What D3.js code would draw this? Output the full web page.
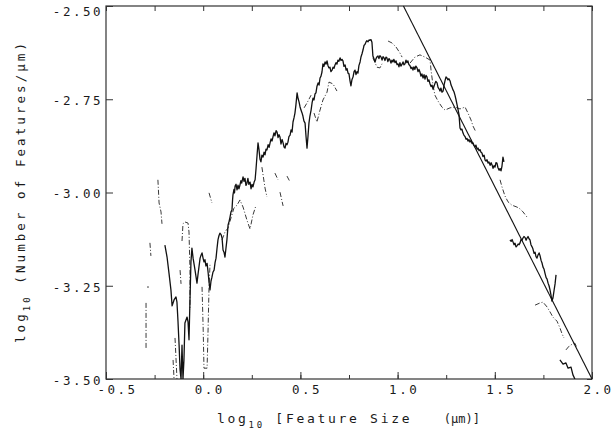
<!DOCTYPE html>
<html>
<head>
<meta charset="utf-8">
<script src="https://cdn.jsdelivr.net/npm/d3@7"></script>
<style>
  body { margin: 0; background: #fff; }
  text { font-family: "DejaVu Sans Mono", "Liberation Mono", monospace; fill: #1a1a1a; }
</style>
</head>
<body>
<svg id="chart" width="614" height="435"></svg>
<script>
// Axis ticks and labels
const xTicks = [-0.5, 0, 0.5, 1, 1.5, 2];
const xTickLabels = ["-0.5", "0.0", "0.5", "1.0", "1.5", "2.0"];
const xMinorTicks = [-0.5, -0.25, 0, 0.25, 0.5, 0.75, 1, 1.25, 1.5, 1.75, 2];
const yTicks = [-2.5, -2.75, -3, -3.25, -3.5];
const yTickLabels = ["-2.50", "-2.75", "-3.00", "-3.25", "-3.50"];

// Measured distribution, solid trace: [log10 size, log10 number]
const solidA = [
  [-0.197,-3.141],[-0.186,-3.173],[-0.176,-3.216],[-0.166,-3.261],[-0.160,-3.304],[-0.150,-3.288],
  [-0.140,-3.280],[-0.135,-3.294],[-0.130,-3.342],[-0.124,-3.409],[-0.119,-3.476],[-0.114,-3.500],
  [-0.109,-3.409],[-0.104,-3.500],[-0.099,-3.449],[-0.094,-3.350],[-0.083,-3.334],[-0.078,-3.347],
  [-0.073,-3.395],[-0.068,-3.288],[-0.063,-3.186],[-0.058,-3.149],[-0.052,-3.176],[-0.042,-3.208],
  [-0.032,-3.243],[-0.027,-3.221],[-0.016,-3.176],[-0.011,-3.168],[-0.006,-3.162],[-0.001,-3.175],
  [0.004,-3.186],[0.009,-3.180],[0.014,-3.197],[0.020,-3.190],[0.025,-3.213],[0.030,-3.240],
  [0.035,-3.261],[0.040,-3.238],[0.045,-3.227],[0.050,-3.214],[0.056,-3.208],[0.061,-3.188],
  [0.066,-3.176],[0.071,-3.150],[0.076,-3.127],[0.081,-3.116],[0.086,-3.109],[0.092,-3.113],
  [0.097,-3.122],[0.102,-3.154],[0.107,-3.160],[0.112,-3.173],[0.117,-3.150],[0.122,-3.127],
  [0.128,-3.087],[0.133,-3.078],[0.138,-3.066],[0.143,-3.052],[0.148,-3.047],[0.151,-3.020],
  [0.153,-3.007],[0.158,-2.992],[0.161,-3.001],[0.164,-2.983],[0.169,-2.978],[0.174,-2.993],
  [0.177,-2.986],[0.179,-2.980],[0.184,-2.990],[0.189,-2.980],[0.194,-2.968],[0.198,-2.975],
  [0.205,-2.958],[0.210,-2.970],[0.215,-2.962],[0.220,-2.981],[0.225,-2.975],[0.230,-2.962],
  [0.235,-2.978],[0.241,-2.972],[0.246,-2.990],[0.251,-2.978],[0.256,-2.985],[0.262,-2.972],
  [0.267,-2.966],[0.272,-2.935],[0.277,-2.900],[0.282,-2.867],[0.287,-2.885],[0.292,-2.910],
  [0.297,-2.918],[0.302,-2.900],[0.308,-2.905],[0.313,-2.892],[0.318,-2.899],[0.323,-2.884],
  [0.328,-2.886],[0.334,-2.872],[0.339,-2.879],[0.344,-2.867],[0.349,-2.856],[0.354,-2.862],
  [0.359,-2.851],[0.364,-2.840],[0.369,-2.848],[0.375,-2.834],[0.380,-2.838],[0.385,-2.853],
  [0.390,-2.845],[0.395,-2.851],[0.400,-2.870],[0.406,-2.858],[0.411,-2.867],[0.416,-2.878],
  [0.421,-2.881],[0.426,-2.868],[0.431,-2.872],[0.436,-2.865],[0.441,-2.850],[0.447,-2.846],
  [0.452,-2.832],[0.457,-2.838],[0.462,-2.811],[0.467,-2.800],[0.472,-2.787],[0.477,-2.765],
  [0.483,-2.733],[0.488,-2.748],[0.493,-2.757],[0.498,-2.770],[0.503,-2.779],[0.508,-2.786],
  [0.513,-2.795],[0.518,-2.808],[0.524,-2.814],[0.529,-2.850],[0.534,-2.881],[0.539,-2.850],
  [0.544,-2.814],[0.549,-2.795],[0.555,-2.779],[0.560,-2.760],[0.565,-2.747],[0.570,-2.752],
  [0.575,-2.736],[0.580,-2.733],[0.585,-2.716],[0.591,-2.706],[0.596,-2.712],[0.601,-2.693],
  [0.606,-2.688],[0.611,-2.677],[0.616,-2.655],[0.621,-2.662],[0.627,-2.650],[0.632,-2.656],
  [0.637,-2.647],[0.642,-2.660],[0.647,-2.666],[0.652,-2.664],[0.657,-2.676],[0.663,-2.672],
  [0.668,-2.664],[0.673,-2.667],[0.678,-2.658],[0.683,-2.652],[0.688,-2.656],[0.693,-2.645],
  [0.698,-2.648],[0.704,-2.639],[0.709,-2.646],[0.714,-2.643],[0.719,-2.647],[0.724,-2.662],
  [0.730,-2.658],[0.735,-2.672],[0.740,-2.668],[0.745,-2.680],[0.750,-2.682],[0.755,-2.700],
  [0.760,-2.714],[0.765,-2.698],[0.771,-2.690],[0.776,-2.676],[0.781,-2.672],[0.786,-2.684],
  [0.791,-2.676],[0.796,-2.680],[0.801,-2.660],[0.807,-2.650],[0.812,-2.636],[0.817,-2.628],
  [0.822,-2.618],[0.827,-2.606],[0.832,-2.603],[0.837,-2.597],[0.842,-2.593],[0.848,-2.596],
  [0.853,-2.591],[0.858,-2.592],[0.863,-2.590],[0.868,-2.597],[0.873,-2.634],[0.878,-2.641],
  [0.884,-2.650],[0.889,-2.641],[0.894,-2.636],[0.899,-2.634],[0.904,-2.641],[0.909,-2.633],
  [0.915,-2.637],[0.920,-2.645],[0.925,-2.636],[0.930,-2.639],[0.935,-2.646],[0.940,-2.637],
  [0.945,-2.639],[0.950,-2.649],[0.956,-2.641],[0.961,-2.645],[0.966,-2.653],[0.971,-2.645],
  [0.976,-2.650],[0.981,-2.643],[0.987,-2.652],[0.992,-2.647],[0.997,-2.657],[1.002,-2.655],
  [1.007,-2.663],[1.012,-2.652],[1.017,-2.661],[1.023,-2.656],[1.028,-2.650],[1.033,-2.658],
  [1.038,-2.655],[1.043,-2.645],[1.048,-2.652],[1.053,-2.647],[1.058,-2.657],[1.064,-2.660],
  [1.069,-2.668],[1.074,-2.664],[1.079,-2.672],[1.084,-2.663],[1.089,-2.670],[1.094,-2.661],
  [1.100,-2.666],[1.105,-2.676],[1.110,-2.670],[1.115,-2.677],[1.120,-2.688],[1.125,-2.682],
  [1.131,-2.693],[1.136,-2.684],[1.141,-2.696],[1.146,-2.686],[1.151,-2.690],[1.156,-2.702],
  [1.161,-2.698],[1.167,-2.709],[1.172,-2.716],[1.177,-2.712],[1.182,-2.723],[1.187,-2.716],
  [1.192,-2.708],[1.197,-2.702],[1.203,-2.706],[1.208,-2.718],[1.213,-2.722],[1.218,-2.728],
  [1.223,-2.720],[1.228,-2.731],[1.234,-2.728],[1.239,-2.712],[1.244,-2.700],[1.249,-2.690],
  [1.254,-2.693],[1.259,-2.698],[1.264,-2.695],[1.270,-2.701],[1.275,-2.712],[1.280,-2.718],
  [1.285,-2.725],[1.290,-2.730],[1.295,-2.739],[1.300,-2.750],[1.306,-2.765],[1.311,-2.778],
  [1.316,-2.792],[1.321,-2.827],[1.326,-2.832],[1.331,-2.830],[1.336,-2.840],[1.341,-2.846],
  [1.347,-2.850],[1.352,-2.857],[1.357,-2.855],[1.362,-2.862],[1.367,-2.858],[1.372,-2.865],
  [1.378,-2.860],[1.383,-2.869],[1.388,-2.867],[1.393,-2.874],[1.398,-2.878],[1.403,-2.873],
  [1.409,-2.884],[1.414,-2.881],[1.419,-2.888],[1.424,-2.885],[1.429,-2.892],[1.434,-2.894],
  [1.439,-2.904],[1.445,-2.900],[1.450,-2.913],[1.455,-2.916],[1.460,-2.912],[1.465,-2.921],
  [1.470,-2.918],[1.476,-2.927],[1.481,-2.920],[1.486,-2.926],[1.491,-2.935],[1.496,-2.928],
  [1.501,-2.932],[1.506,-2.920],[1.511,-2.921],[1.516,-2.933],[1.522,-2.940],[1.527,-2.936],
  [1.532,-2.942],[1.537,-2.929],[1.542,-2.905],[1.547,-2.918]
];
const solidB = [
  [1.578,-3.127],[1.584,-3.131],[1.589,-3.126],[1.594,-3.133],[1.599,-3.140],[1.604,-3.136],
  [1.609,-3.146],[1.614,-3.143],[1.620,-3.138],[1.625,-3.140],[1.630,-3.135],[1.635,-3.126],
  [1.640,-3.128],[1.645,-3.122],[1.650,-3.118],[1.656,-3.121],[1.661,-3.128],[1.666,-3.122],
  [1.671,-3.118],[1.676,-3.124],[1.681,-3.127],[1.686,-3.140],[1.691,-3.145],[1.696,-3.151],
  [1.702,-3.163],[1.707,-3.160],[1.712,-3.172],[1.717,-3.176],[1.722,-3.168],[1.728,-3.162],
  [1.733,-3.170],[1.738,-3.182],[1.743,-3.189],[1.748,-3.200],[1.753,-3.205],[1.758,-3.216],
  [1.764,-3.228],[1.769,-3.232],[1.774,-3.243],[1.779,-3.250],[1.784,-3.261],[1.789,-3.275],
  [1.794,-3.291],[1.799,-3.283],[1.805,-3.262],[1.810,-3.245],[1.815,-3.221]
];
const solidC = [
  [1.835,-3.449],[1.851,-3.460],[1.866,-3.457],[1.877,-3.471],[1.892,-3.468],[1.902,-3.489],[1.912,-3.500]
];

// Second distribution, broken trace
const dashedSegments = [
  [[-0.294,-3.296],[-0.294,-3.417]],
  [[-0.284,-3.251],[-0.284,-3.256]],
  [[-0.274,-3.135],[-0.269,-3.170]],
  [[-0.233,-2.966],[-0.227,-3.028],[-0.217,-3.052],[-0.212,-3.084]],
  [[-0.155,-3.449],[-0.150,-3.500]],
  [[-0.145,-3.390],[-0.140,-3.444],[-0.135,-3.500]],
  [[-0.119,-3.208],[-0.114,-3.245]],
  [[-0.109,-3.130],[-0.104,-3.084],[-0.094,-3.079],[-0.078,-3.082],[-0.073,-3.106],[-0.068,-3.208],[-0.068,-3.315]],
  [[-0.006,-3.253],[0.000,-3.369],[0.004,-3.471],[0.020,-3.471],[0.025,-3.369],[0.030,-3.253],[0.035,-3.194]],
  [[0.030,-3.001],[0.045,-3.028]],
  [[0.097,-3.127],[0.112,-3.106],[0.128,-3.095],[0.143,-3.068],[0.158,-3.042],[0.174,-3.034],
   [0.189,-3.020],[0.205,-3.039],[0.225,-3.074],[0.241,-3.098],[0.256,-3.060],[0.272,-3.034]],
  [[0.302,-2.932],[0.318,-2.988],[0.328,-3.012]],
  [[0.369,-2.948],[0.385,-2.966]],
  [[0.395,-2.999],[0.411,-3.036]],
  [[0.431,-2.956],[0.447,-2.972]],
  [[0.519,-2.773],[0.534,-2.760],[0.555,-2.739]],
  [[0.570,-2.787],[0.585,-2.811],[0.601,-2.779],[0.616,-2.752],[0.637,-2.731],[0.647,-2.704],[0.668,-2.709],[0.688,-2.728]],
  [[0.873,-2.639],[0.894,-2.664],[0.909,-2.666],[0.920,-2.655]],
  [[0.951,-2.594],[0.971,-2.599],[0.992,-2.610],[1.012,-2.626],[1.023,-2.637]],
  [[1.064,-2.653],[1.089,-2.637],[1.115,-2.631],[1.141,-2.637],[1.167,-2.645],[1.172,-2.672],
   [1.182,-2.712],[1.192,-2.739],[1.208,-2.755],[1.228,-2.771],[1.244,-2.779],[1.270,-2.773],
   [1.295,-2.771],[1.321,-2.776],[1.347,-2.771],[1.362,-2.787],[1.378,-2.806],[1.388,-2.822],[1.403,-2.838]],
  [[1.527,-2.966],[1.537,-2.985],[1.552,-3.009],[1.568,-3.025],[1.588,-3.034],[1.614,-3.039],
   [1.630,-3.044],[1.645,-3.052],[1.666,-3.066]],
  [[1.707,-3.302],[1.733,-3.296],[1.748,-3.294],[1.769,-3.307],[1.784,-3.320],[1.799,-3.334],
   [1.820,-3.345],[1.835,-3.363],[1.846,-3.379],[1.856,-3.390]],
  [[1.866,-3.422],[1.882,-3.412],[1.897,-3.407],[1.912,-3.404],[1.923,-3.417]]
];

// Power-law fit through the large-size tail
const fitLine = [[1.03, -2.5], [2.0, -3.5]];

const svg = d3.select("#chart");
const plot = { left: 106, right: 592, top: 6, bottom: 379 };

const x = d3.scaleLinear().domain([-0.5, 2]).range([plot.left, plot.right]);
const y = d3.scaleLinear().domain([-3.5, -2.5]).range([plot.bottom, plot.top]);

svg.append("defs").append("clipPath").attr("id", "plotClip")
  .append("rect")
  .attr("x", plot.left).attr("y", plot.top - 1)
  .attr("width", plot.right - plot.left).attr("height", plot.bottom - plot.top + 1);

const ink = "#1c1c1c";

// Frame
svg.append("rect")
  .attr("x", plot.left).attr("y", plot.top)
  .attr("width", plot.right - plot.left).attr("height", plot.bottom - plot.top)
  .attr("fill", "none").attr("stroke", "#333").attr("stroke-width", 1.2);

// Bottom and top tick marks (inward)
function styleAxis(g) {
  g.select(".domain").remove();
  g.selectAll(".tick line").attr("stroke", "#333").attr("stroke-width", 1);
}
svg.append("g").attr("transform", `translate(0,${plot.bottom})`)
  .call(d3.axisBottom(x).tickValues(xMinorTicks).tickSize(-4).tickFormat(""))
  .call(styleAxis);
svg.append("g").attr("transform", `translate(0,${plot.top})`)
  .call(d3.axisTop(x).tickValues(xMinorTicks).tickSize(-5).tickFormat(""))
  .call(styleAxis);

const xAxis = svg.append("g").attr("transform", `translate(0,${plot.bottom})`)
  .call(d3.axisBottom(x).tickValues(xTicks).tickSize(-7).tickFormat((d, i) => xTickLabels[i]))
  .call(styleAxis);
xAxis.selectAll(".tick text")
  .attr("y", 15).attr("dy", 0).attr("x", -9)
  .attr("text-anchor", "start")
  .style("font-family", "DejaVu Sans Mono")
  .style("font-size", "12.5px").style("letter-spacing", "2.5px")
  .attr("fill", ink);

// Left and right tick marks
const yAxis = svg.append("g").attr("transform", `translate(${plot.left},0)`)
  .call(d3.axisLeft(y).tickValues(yTicks).tickSize(-7).tickFormat((d, i) => yTickLabels[i]))
  .call(styleAxis);
yAxis.selectAll(".tick text")
  .attr("x", -3).attr("dy", (d, i) => i === 0 ? "0.75em" : "0.42em")
  .attr("text-anchor", "end")
  .style("font-family", "DejaVu Sans Mono")
  .style("font-size", "12.5px").style("letter-spacing", "2.5px")
  .attr("fill", ink);
svg.append("g").attr("transform", `translate(${plot.right},0)`)
  .call(d3.axisRight(y).tickValues(yTicks).tickSize(-5).tickFormat(""))
  .call(styleAxis);

// Curves
const line = d3.line().x(d => x(d[0])).y(d => y(d[1]));
const curves = svg.append("g").attr("clip-path", "url(#plotClip)");

curves.selectAll("path.dashed").data(dashedSegments).join("path")
  .attr("class", "dashed")
  .attr("d", line)
  .attr("fill", "none").attr("stroke", "#3a3a3a")
  .attr("stroke-width", 1).attr("stroke-dasharray", "5,2,1,2");

curves.selectAll("path.solid").data([solidA, solidB, solidC]).join("path")
  .attr("class", "solid")
  .attr("d", line)
  .attr("fill", "none").attr("stroke", "#111")
  .attr("stroke-width", 1.3).attr("stroke-linejoin", "round");

curves.append("path").datum(fitLine)
  .attr("d", line)
  .attr("fill", "none").attr("stroke", "#111").attr("stroke-width", 1.1);

// Axis titles
const xTitle = svg.append("text")
  .attr("x", 217).attr("y", 423)
  .style("font-size", "13px").style("letter-spacing", "2.7px")
  .style("white-space", "pre");
xTitle.append("tspan").text("log");
xTitle.append("tspan").attr("dy", 5).style("font-size", "9px").text("10");
xTitle.append("tspan").attr("dy", -5).text(" [Feature Size   ");
xTitle.append("tspan").style("letter-spacing", "0px").style("font-size", "12px").text("(\u03bcm)]");

// Vertical title runs from y = 343 up to y = 43
const yTitle = svg.append("text")
  .attr("transform", "translate(25,343) rotate(-90)")
  .attr("text-anchor", "start")
  .attr("textLength", 300).attr("lengthAdjust", "spacing")
  .style("font-size", "12.5px")
  .style("white-space", "pre");
yTitle.append("tspan").text("log");
yTitle.append("tspan").attr("dy", 5).style("font-size", "9px").text("10");
yTitle.append("tspan").attr("dy", -5).text(" (Number of Features/\u03bcm)");
</script>
</body>
</html>
